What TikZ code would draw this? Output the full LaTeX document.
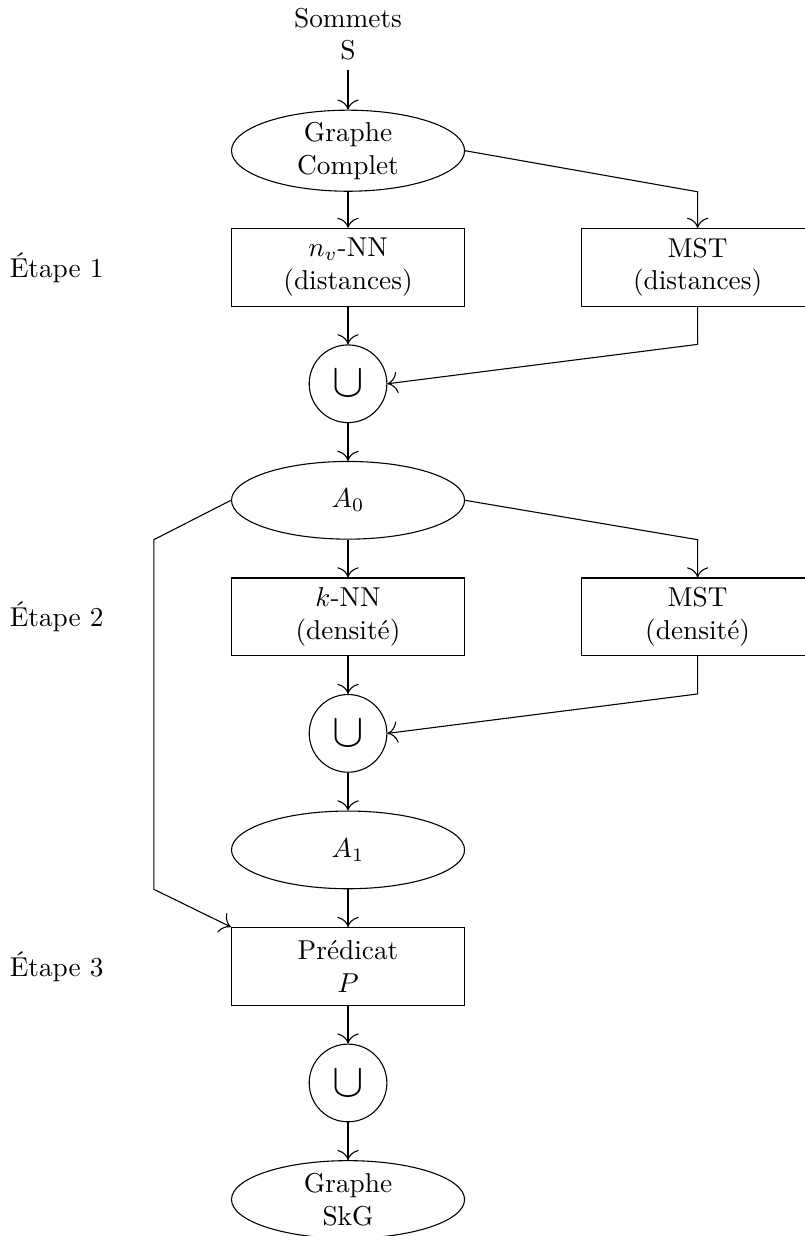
\documentclass[tikz,border=0pt]{standalone}
\usepackage{amsmath,amssymb}
\usepackage{tikz}
\usetikzlibrary{arrows.meta,shapes.geometric,positioning,calc}
\tikzset{
  graphnode/.style={draw,ellipse,align=center,minimum width=3cm,
    minimum height=1cm,inner sep=0pt},
  stepbox/.style={draw,rectangle,align=center,minimum width=3cm,
    minimum height=1cm},
  unionnode/.style={draw,circle,minimum size=1cm,inner sep=0pt},
  flow/.style={-{To[scale=1.5]}}
}

\begin{document}
\begin{tikzpicture}[x=1cm,y=1cm]
\useasboundingbox (-4.48,1.94) rectangle (5.88,-13.97);
% sommets et premier graphe
\node[align=center] (som) at (0,1.5) {Sommets\\S};
\node[graphnode] (complet) at (0,0) {Graphe\\Complet};
% etape 1
\node (etape1) at (-3.75,-1.5) {Étape 1};
\node[stepbox] (nnv) at (0,-1.5) {$n_v$-NN\\(distances)};
\node[stepbox] (mstd) at (4.5,-1.5) {MST\\(distances)};
\node[unionnode] (u1) at (0,-3) {\LARGE$\cup$};
\node[graphnode] (a0) at (0,-4.5) {$A_0$};
% etape 2
\node (etape2) at (-3.75,-6) {Étape 2};
\node[stepbox] (knn) at (0,-6) {$k$-NN\\(densité)};
\node[stepbox] (mstk) at (4.5,-6) {MST\\(densité)};
\node[unionnode] (u2) at (0,-7.5) {\LARGE$\cup$};
\node[graphnode] (a1) at (0,-9) {$A_1$};
% etape 3
\node (etape3) at (-3.75,-10.5) {Étape 3};
\node[stepbox] (pred) at (0,-10.5) {Prédicat\\$P$};
\node[unionnode] (u3) at (0,-12) {\LARGE$\cup$};
\node[graphnode] (skg) at (0,-13.5) {Graphe\\SkG};
\coordinate (lft) at (-2.5,0);

\draw[flow] (som) -- (complet);
\draw[flow] (complet) -- (nnv);
\draw[flow] (complet.east) -- (mstd.north |- complet.south) -- (mstd.north);
\draw[flow] (nnv) -- (u1);
\draw[flow] (mstd.south) -- (mstd.south |- u1.north) -- (u1.east);
\draw[flow] (u1) -- (a0);
\draw[flow] (a0) -- (knn);
\draw[flow] (a0.east) -- (mstk.north |- a0.south) -- (mstk.north);
\draw[flow] (knn) -- (u2);
\draw[flow] (mstk.south) -- (mstk.south |- u2.north) -- (u2.east);
\draw[flow] (u2) -- (a1);
\draw[flow] (a1) -- (pred);
\draw[flow] (a0.west) -- (lft |- a0.south) -- (lft |- a1.south) -- (pred.north west);
\draw[flow] (pred) -- (u3);
\draw[flow] (u3) -- (skg);
\end{tikzpicture}
\end{document}
